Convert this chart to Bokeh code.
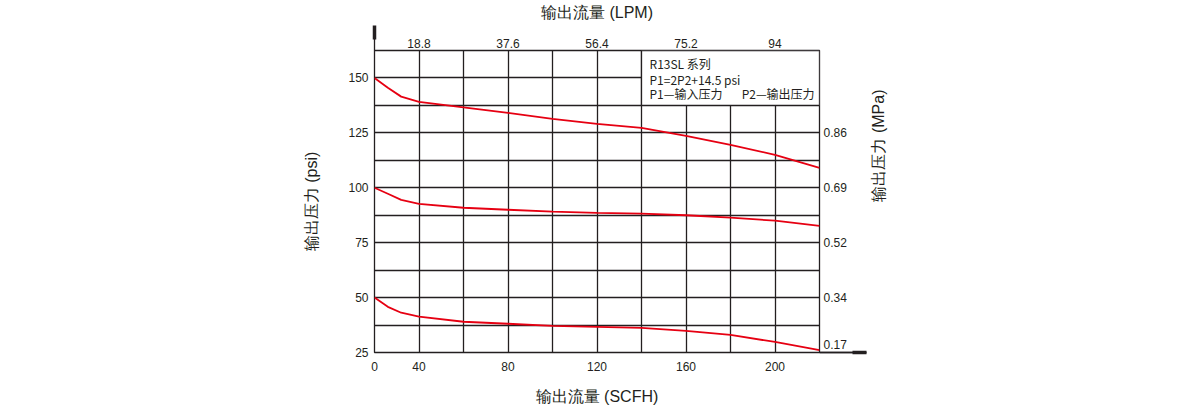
import numpy as np
from bokeh.plotting import figure
from bokeh.models import (Range1d, LinearAxis, FixedTicker, Arrow, NormalHead,
                          ColumnDataSource)
from bokeh.core.properties import value
from bokeh.embed import file_html
from bokeh.resources import INLINE

# ---------------- data ----------------
scfh = [0, 12, 24, 40, 60, 80, 100, 120, 140, 160, 180, 200, 220]
p_150 = [150, 145.5, 141.5, 139.1, 136.6, 134.1, 131.4, 129.1, 127.3, 123.6, 119.5, 115.0, 109.1]
p_100 = [100, 97.3, 94.5, 92.7, 90.9, 90.0, 89.1, 88.6, 88.2, 87.5, 86.4, 85.0, 82.7]
p_50 = [50, 45.8, 43.1, 41.3, 39.0, 38.1, 37.1, 36.7, 36.2, 34.8, 33.0, 29.8, 26.1]

scfh_ticks = [0, 40, 80, 120, 160, 200]
lpm_labels = ["18.8", "37.6", "56.4", "75.2", "94"]
psi_ticks = [25, 50, 75, 100, 125, 150]
mpa_ticks = [25, 50, 75, 100, 125]
mpa_labels = ["0.17", "0.34", "0.52", "0.69", "0.86"]
note_text = ["R13SL 系列", "P1=2P2+14.5 psi", "P1—输入压力", "P2—输出压力"]
note_x = [143.6, 143.6, 143.6, 185.0]
note_y = [156.4, 149.2, 142.8, 142.8]

# axis is compressed in first cell: 0..40 SCFH occupies one 20-unit cell
def xpos(s):
    s = np.asarray(s, dtype=float)
    return np.where(s < 40, 20 + s / 2.0, s)

INK = "#231f20"
RED = "#e60012"
CJK = "Noto Sans CJK SC"
NUM = "Liberation Sans"

X0, X1, Y0, Y1 = 20, 220, 25, 162.5
FL, FR, FT, FB = 374, 819, 50, 352   # frame edges in px
TOP_SHAFT = 20     # px the vertical arrow shaft sticks out above the grid
RIGHT_SHAFT = 46   # px the horizontal arrow shaft sticks out right of the grid

def px2x(px):
    return X0 + (px - FL) * (X1 - X0) / (FR - FL)

def px2y(py):
    return Y0 + (FB - py) * (Y1 - Y0) / (FB - FT)

p = figure(width=1200, height=408, output_backend="svg", toolbar_location=None,
           x_range=Range1d(X0, X1), y_range=Range1d(Y0, Y1),
           min_border_left=FL, min_border_right=1200 - FR, min_border_top=FT,
           min_border_bottom=408 - FB, x_axis_location=None, y_axis_location=None)
p.background_fill_color = "white"
p.border_fill_color = "white"
p.outline_line_color = INK
p.outline_line_width = 1.3

# grid
p.xgrid.ticker = FixedTicker(ticks=list(range(20, 221, 20)))
p.ygrid.ticker = FixedTicker(ticks=list(np.arange(25, 162.6, 12.5)))
p.xgrid.grid_line_color = INK
p.ygrid.grid_line_color = INK
p.xgrid.grid_line_width = 1.3
p.ygrid.grid_line_width = 1.3

def style_axis(ax, ticks, overrides, standoff, minor=None, minor_out=0):
    ax.ticker = FixedTicker(ticks=ticks, minor_ticks=minor or [])
    ax.major_label_overrides = overrides
    ax.axis_line_color = None
    ax.major_tick_line_color = None
    ax.major_tick_out = 0
    ax.major_tick_in = 0
    ax.minor_tick_in = 0
    ax.minor_tick_out = minor_out
    ax.minor_tick_line_color = INK if minor else None
    ax.minor_tick_line_width = 1.3
    # labels keep their distance from the grid even with a long minor tick
    ax.major_label_standoff = standoff - minor_out
    ax.major_label_text_font = NUM
    ax.major_label_text_font_size = "12px"
    ax.major_label_text_color = INK
    ax.axis_label_text_font = NUM
    ax.axis_label_text_font_size = "16px"
    ax.axis_label_text_font_style = "normal"
    ax.axis_label_text_color = INK

xb = [float(xpos(v)) for v in scfh_ticks]
bottom = LinearAxis(axis_label="输出流量 (SCFH)")
style_axis(bottom, xb, {xb[i]: str(scfh_ticks[i]) for i in range(len(xb))}, 9)
bottom.axis_label_standoff = 14
p.add_layout(bottom, "below")

# top axis; its minor tick at the origin draws the shaft of the vertical arrow
xt = xb[1:]
top = LinearAxis(axis_label="输出流量 (LPM)")
style_axis(top, xt, {xt[i]: lpm_labels[i] for i in range(len(xt))}, 3,
           minor=[X0], minor_out=TOP_SHAFT)
top.axis_label_standoff = 15
p.add_layout(top, "above")

left = LinearAxis(axis_label="输出压力 (psi)")
style_axis(left, psi_ticks, {v: str(v) for v in psi_ticks}, 6)
left.axis_label_standoff = 25
p.add_layout(left, "left")

# right axis; its minor tick at the bottom draws the shaft of the horizontal arrow.
# the lowest label sits a little above the arrow, as in the original
rt = [float(v) for v in mpa_ticks]
rt[0] = px2y(FB - 8)
right = LinearAxis(axis_label="输出压力 (MPa)")
style_axis(right, rt, {rt[i]: mpa_labels[i] for i in range(len(rt))}, 4,
           minor=[Y0], minor_out=RIGHT_SHAFT)
right.axis_label_standoff = 29
right.axis_label_orientation = float(np.pi / 2)
p.add_layout(right, "right")

# curves
for ys in (p_150, p_100, p_50):
    p.line(xpos(scfh), ys, line_color=RED, line_width=1.8)

# note box
p.quad(left=[140], right=[220], bottom=[137.5], top=[162.5],
       fill_color="white", line_color=INK, line_width=1.3)
src = ColumnDataSource(dict(x=note_x, y=note_y, t=note_text))
p.text(x="x", y="y", text="t", source=src, text_font=value(CJK),
       text_font_size="12px", text_color=INK, text_baseline="middle", text_align="left")

# horizontal arrow shaft (thin) beyond the grid
p.add_layout(Arrow(end=NormalHead(size=RIGHT_SHAFT + 1, fill_color=None, line_color=None),
                   x_start=X1, y_start=Y0, x_end=px2x(FR + 47), y_end=Y0,
                   line_color=INK, line_width=1.3))

# arrow heads
p.add_layout(Arrow(end=NormalHead(size=14, fill_color=INK, line_color=INK, line_width=1),
                   x_start=X0, y_start=Y1, x_end=X0, y_end=px2y(FT - 25),
                   line_color=INK, line_width=3.5))
p.add_layout(Arrow(end=NormalHead(size=14, fill_color=INK, line_color=INK, line_width=1),
                   x_start=X1, y_start=Y0, x_end=px2x(FR + 47), y_end=Y0,
                   line_color=INK, line_width=3.5))

open("out.html", "w").write(file_html(p, INLINE))
